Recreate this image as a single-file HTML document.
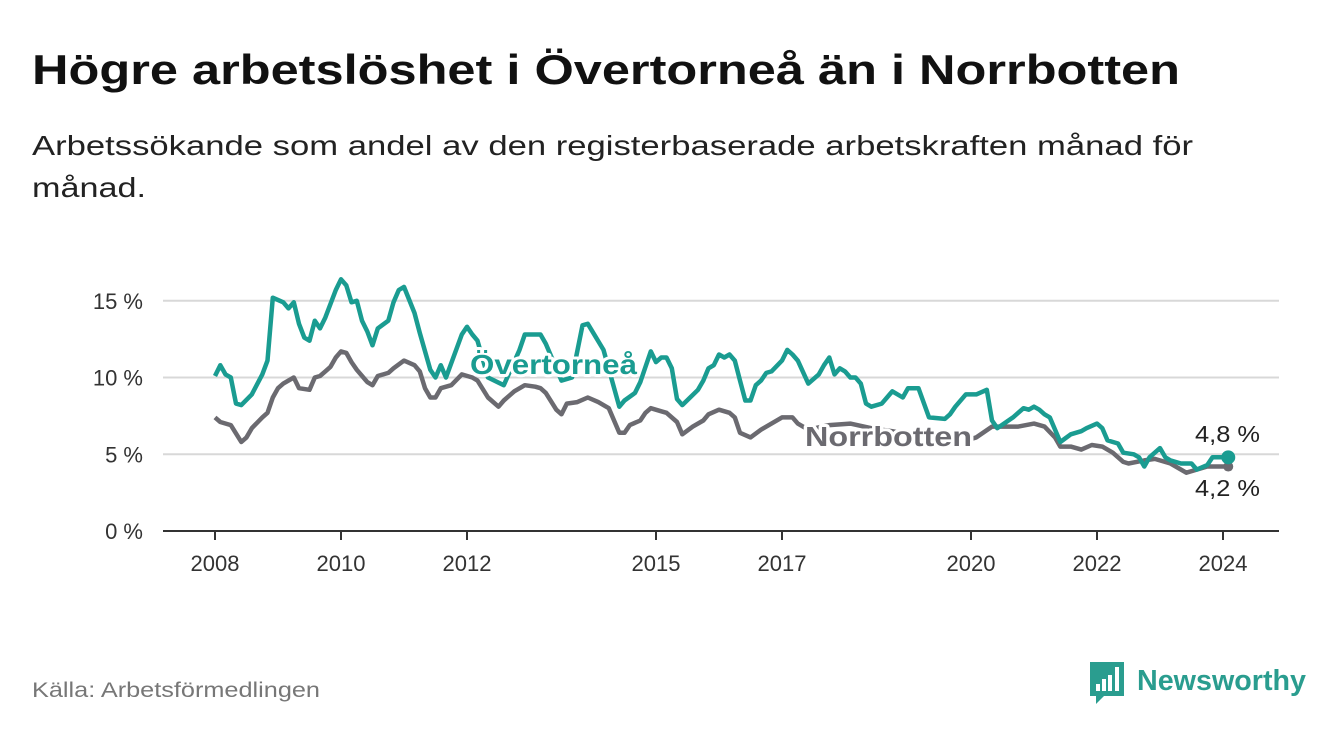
<!DOCTYPE html>
<html><head><meta charset="utf-8"><style>
body{margin:0;background:#fff;width:1340px;height:734px;overflow:hidden;font-family:"Liberation Sans",sans-serif}
svg{position:absolute;left:0;top:0}
</style></head><body>
<svg width="1340" height="734">
<text x="32" y="84" font-size="42" font-weight="bold" fill="#111" textLength="1148" lengthAdjust="spacingAndGlyphs">Högre arbetslöshet i Övertorneå än i Norrbotten</text>
<text x="32" y="155" font-size="28" fill="#222" textLength="1161" lengthAdjust="spacingAndGlyphs">Arbetssökande som andel av den registerbaserade arbetskraften månad för</text>
<text x="32" y="197" font-size="28" fill="#222" textLength="114" lengthAdjust="spacingAndGlyphs">månad.</text>
<g id="grid"></g><g id="lines"></g><g id="labels"></g>
<text x="32" y="697" font-size="21" fill="#777" textLength="288" lengthAdjust="spacingAndGlyphs">Källa: Arbetsförmedlingen</text>
<g>
<path d="M1090 662h34v34h-20l-8 8v-8h-6z" fill="#2a9d8f"/>
<rect x="1096" y="684" width="4" height="7" fill="#fff"/><rect x="1102" y="679" width="4" height="12" fill="#fff"/><rect x="1108" y="675" width="4" height="16" fill="#fff"/><rect x="1115" y="667" width="4" height="24" fill="#fff"/>
<text x="1137" y="690" font-size="29" font-weight="bold" fill="#2a9d8f" textLength="169" lengthAdjust="spacingAndGlyphs">Newsworthy</text>
</g>
</svg>
<script>
const yTicks=[0,5,10,15];
const xTickYears=[2008,2010,2012,2015,2017,2020,2022,2024];
const overMonths=[0,1,2,3,4,5,7,9,10,11,13,14,15,16,17,18,19,20,21,23,24,25,26,27,28,29,30,31,33,34,35,36,38,39,41,42,43,44,47,48,49,50,52,55,58,59,62,63,66,68,70,71,74,77,78,80,81,82,83,84,85,86,87,88,89,92,93,94,95,96,97,98,99,100,101,102,103,104,105,106,108,109,110,111,113,115,116,117,118,119,120,121,122,123,124,125,127,129,131,132,134,136,139,140,141,143,145,147,148,149,152,154,155,156,157,158,159,161,163,165,166,168,169,170,172,173,175,176,177,178,180,181,182,184,186,187,189,190,192,193];
const overValues=[10.1,10.8,10.2,10.0,8.3,8.2,8.9,10.2,11.1,15.2,14.9,14.5,14.9,13.5,12.6,12.4,13.7,13.2,13.9,15.7,16.4,16.0,14.9,15.0,13.7,13.0,12.1,13.2,13.7,14.9,15.7,15.9,14.2,12.9,10.5,10.0,10.8,10.0,12.8,13.3,12.8,12.4,10.0,9.5,11.8,12.8,12.8,12.2,9.8,10.0,13.4,13.5,11.8,8.1,8.5,9.0,9.7,10.7,11.7,11.0,11.3,11.3,10.6,8.6,8.2,9.2,9.8,10.6,10.8,11.5,11.3,11.5,11.1,9.8,8.5,8.5,9.5,9.8,10.3,10.4,11.1,11.8,11.5,11.1,9.6,10.2,10.8,11.3,10.2,10.6,10.4,10.0,10.0,9.6,8.3,8.1,8.3,9.1,8.7,9.3,9.3,7.4,7.3,7.6,8.1,8.9,8.9,9.2,7.2,6.7,7.4,8.0,7.9,8.1,7.9,7.6,7.4,5.8,6.3,6.5,6.7,7.0,6.7,5.9,5.7,5.1,5.0,4.8,4.2,4.8,5.4,4.8,4.6,4.4,4.4,4.0,4.3,4.8,4.8,4.8];
const norrMonths=[0,1,3,5,6,7,9,10,11,12,13,15,16,18,19,20,21,22,23,24,25,26,27,29,30,31,33,34,36,38,39,40,41,42,43,45,47,49,50,52,54,55,57,59,61,62,63,65,66,67,69,71,73,75,77,78,79,81,82,83,85,86,88,89,91,93,94,96,98,99,100,102,104,106,108,110,111,113,117,121,125,129,132,136,140,143,145,148,150,153,156,158,160,161,163,165,167,169,171,173,174,177,179,182,185,187,189,191,193];
const norrValues=[7.4,7.1,6.9,5.8,6.1,6.7,7.4,7.7,8.7,9.3,9.6,10.0,9.3,9.2,10.0,10.1,10.4,10.7,11.3,11.7,11.6,11.0,10.5,9.7,9.5,10.1,10.3,10.6,11.1,10.8,10.4,9.3,8.7,8.7,9.3,9.5,10.2,10.0,9.8,8.7,8.1,8.5,9.1,9.5,9.4,9.3,9.0,7.9,7.6,8.3,8.4,8.7,8.4,8.0,6.4,6.4,6.9,7.2,7.7,8.0,7.8,7.7,7.1,6.3,6.8,7.2,7.6,7.9,7.7,7.4,6.4,6.1,6.6,7.0,7.4,7.4,7.0,6.6,6.9,7.0,6.7,6.5,6.3,6.0,5.9,5.9,6.1,6.8,6.8,6.8,7.0,6.8,6.1,5.5,5.5,5.3,5.6,5.5,5.1,4.5,4.4,4.6,4.7,4.4,3.8,4.0,4.2,4.2,4.2];
const NS="http://www.w3.org/2000/svg";
const X=m=>215+m*5.25, XY=y=>215+(y-2008)*63, Y=v=>531-v*15.35;
function mk(t,a,p){const e=document.createElementNS(NS,t);for(const k in a)e.setAttribute(k,a[k]);(p||document.querySelector('svg')).appendChild(e);return e;}
const grid=document.getElementById('grid'),lines=document.getElementById('lines'),labels=document.getElementById('labels');
yTicks.forEach(v=>{
 const l=mk('line',{x1:163,x2:1279,y1:Y(v),y2:Y(v),stroke:v===0?'#333':'#d8d8d8','stroke-width':2},grid);
 
 
 const t=mk('text',{x:143,y:Y(v)+8,'text-anchor':'end','font-size':22,fill:'#333'},grid);t.textContent=v+' %';
 
 
});
xTickYears.forEach(y=>{
 const tk=mk('line',{x1:XY(y),x2:XY(y),y1:531,y2:540,stroke:'#333','stroke-width':2},grid);
 
 
 const t=mk('text',{x:XY(y),y:571,'text-anchor':'middle','font-size':22,fill:'#333'},grid);t.textContent=y;
 
 
});
function path(ms,vs){return ms.map((m,i)=>(i?'L':'M')+X(m).toFixed(1)+' '+Y(vs[i]).toFixed(1)).join('');}
const pn=mk('path',{d:path(norrMonths,norrValues),fill:'none',stroke:'#6b6a70','stroke-width':4.5,'stroke-linejoin':'round'},lines);


const po=mk('path',{d:path(overMonths,overValues),fill:'none',stroke:'#1a9c91','stroke-width':4.5,'stroke-linejoin':'round'},lines);


const lastO=overMonths.length-1,lastN=norrMonths.length-1;
const dn=mk('circle',{cx:X(norrMonths[lastN]),cy:Y(norrValues[lastN]),r:5,fill:'#6b6a70'},lines);


const d=mk('circle',{cx:X(overMonths[lastO]),cy:Y(overValues[lastO]),r:7,fill:'#1a9c91'},lines);


function lab(txt,x,y,col,name,size,bold,len){const t=mk('text',{x:x,y:y,'font-size':size,'font-weight':bold?'bold':'normal',fill:col,stroke:'#fff','stroke-width':6,'paint-order':'stroke','stroke-linejoin':'round',textLength:len,lengthAdjust:'spacingAndGlyphs'},labels);t.textContent=txt;
 
 }
lab('Övertorneå',470,374,'#1a9c91','overtornea-label',28,true,167);
lab('Norrbotten',805,446,'#6b6a70','norrbotten-label',28,true,167);
lab('4,8 %',1195,442,'#222','overtornea-end-value',23,false,65);
lab('4,2 %',1195,496,'#222','norrbotten-end-value',23,false,65);
</script>
</body></html>
